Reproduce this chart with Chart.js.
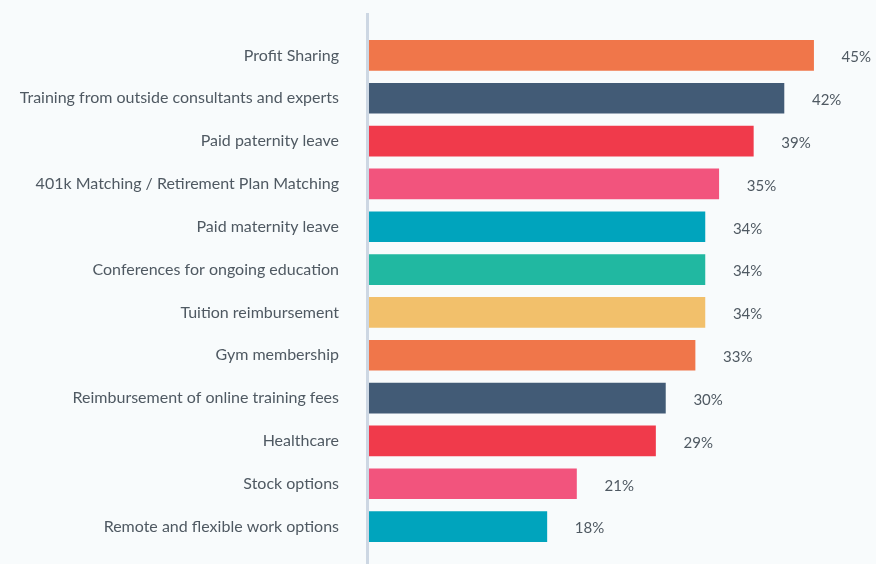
<!DOCTYPE html>
<html>
<head>
<meta charset="utf-8">
<script src="https://cdn.jsdelivr.net/npm/chart.js@4"></script>
<style>
  html, body { margin: 0; padding: 0; background: #f8fbfc; }
  #wrap { width: 876px; height: 564px; position: relative; }
</style>
</head>
<body>
<div id="wrap"><canvas id="chart"></canvas></div>
<script>
// Benefits and share of respondents
const categories = [
  'Profit Sharing',
  'Training from outside consultants and experts',
  'Paid paternity leave',
  '401k Matching / Retirement Plan Matching',
  'Paid maternity leave',
  'Conferences for ongoing education',
  'Tuition reimbursement',
  'Gym membership',
  'Reimbursement of online training fees',
  'Healthcare',
  'Stock options',
  'Remote and flexible work options'
];
const values = [45, 42, 38.9, 35.4, 34, 34, 34, 33, 30, 29, 21, 18];
const valueLabels = ['45%', '42%', '39%', '35%', '34%', '34%', '34%', '33%', '30%', '29%', '21%', '18%'];
const barColors = [
  '#f0764a', '#425b76', '#f03a4b', '#f2547d', '#00a4bd', '#21b8a1',
  '#f2c06b', '#f0764a', '#425b76', '#f03a4b', '#f2547d', '#00a4bd'
];

const textColor = '#4f5962';

// vertical axis line that runs past the bars
const axisLine = {
  id: 'axisLine',
  beforeDatasetsDraw(chart) {
    const ctx = chart.ctx;
    const x = chart.chartArea.left - 1.5;
    ctx.save();
    ctx.strokeStyle = '#cdd7e3';
    ctx.lineWidth = 3;
    ctx.beginPath();
    ctx.moveTo(x, 13);
    ctx.lineTo(x, chart.height);
    ctx.stroke();
    ctx.restore();
  }
};

// percentage labels to the right of each bar
const barLabels = {
  id: 'barLabels',
  afterDatasetsDraw(chart) {
    const ctx = chart.ctx;
    const meta = chart.getDatasetMeta(0);
    ctx.save();
    ctx.fillStyle = textColor;
    ctx.font = '15px Lato';
    ctx.textAlign = 'left';
    ctx.textBaseline = 'middle';
    meta.data.forEach((bar, i) => {
      ctx.fillText(valueLabels[i], bar.x + 28, bar.y + 2);
    });
    ctx.restore();
  }
};

new Chart(document.getElementById('chart'), {
  type: 'bar',
  data: {
    labels: categories,
    datasets: [{
      data: values,
      backgroundColor: barColors,
      borderWidth: 0,
      barThickness: 30
    }]
  },
  options: {
    indexAxis: 'y',
    responsive: true,
    maintainAspectRatio: false,
    animation: false,
    layout: { padding: { left: 0, right: 13, top: 34, bottom: 16 } },
    plugins: {
      legend: { display: false },
      tooltip: { enabled: false }
    },
    scales: {
      x: {
        min: 0,
        max: 50,
        display: false
      },
      y: {
        grid: { display: false },
        border: { display: false },
        ticks: {
          color: textColor,
          font: { family: 'Lato', size: 16 },
          padding: 22
        },
        afterFit(scale) {
          scale.width = 369;
          scale.paddingTop = 0;
          scale.paddingBottom = 0;
        }
      }
    }
  },
  plugins: [axisLine, barLabels]
});
</script>
</body>
</html>
